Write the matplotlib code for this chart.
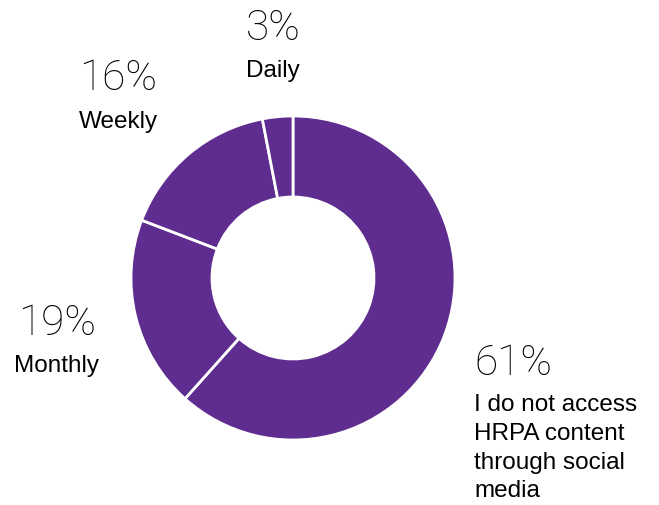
import matplotlib.pyplot as plt

# survey shares, clockwise from 12 o'clock
labels = ["I do not access\nHRPA content\nthrough social\nmedia", "Monthly", "Weekly", "Daily"]
shares = [61, 19, 16, 3]
pct_text = ["61%", "19%", "16%", "3%"]

purple = '#5e2d8f'
W, H = 659, 506

fig = plt.figure(figsize=(W / 100, H / 100), dpi=100)

# donut centre (293, 279) px, outer radius 162 px
cx, cy, r = 293, 279, 162
ax = fig.add_axes([(cx - r) / W, (H - cy - r) / H, 2 * r / W, 2 * r / H])
ax.pie(shares, startangle=90, counterclock=False, colors=[purple] * len(shares),
       radius=1.0, wedgeprops=dict(width=0.5, edgecolor='white', linewidth=2))
ax.set_xlim(-1, 1)
ax.set_ylim(-1, 1)
ax.set_aspect('equal')
ax.axis('off')

# label anchors in pixels: (x, y of percent baseline, y of label baseline, alignment)
pos = [(474, 375, 413, 'left'),
       (57, 335, 372, 'center'),
       (118, 90, 128, 'center'),
       (273, 40, 77, 'center')]

for (x, yp, yl, ha), p, lab in zip(pos, pct_text, labels):
    fig.text(x / W, 1 - yp / H, p, ha=ha, va='baseline', fontsize=30.5,
             family='Roboto', weight='light', color='black')
    if '\n' in lab:
        fig.text(x / W, 1 - (yl - 19) / H, lab, ha=ha, va='top',
                 fontsize=17.5, family='Liberation Sans', color='black', linespacing=1.4)
    else:
        fig.text(x / W, 1 - yl / H, lab, ha=ha, va='baseline',
                 fontsize=17.5, family='Liberation Sans', color='black')

fig.savefig('out.png', dpi=100)
